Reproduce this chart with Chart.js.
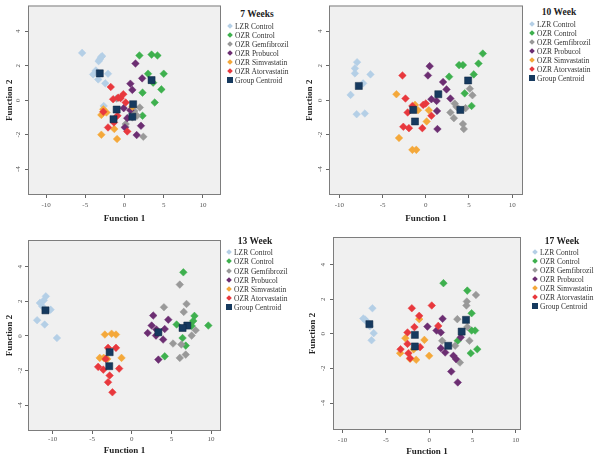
<!DOCTYPE html>
<html lang="en">
<head>
<meta charset="UTF-8">
<title>Discriminant function scores</title>
<script src="https://cdn.jsdelivr.net/npm/chart.js"></script>
<style>
  body { margin: 0; background: #fff; overflow: hidden; }
  #page { position: relative; width: 600px; height: 456px; overflow: hidden; }
  .panel { position: absolute; width: 300px; height: 228px; }
  .panel canvas { position: absolute; left: 0; top: 0; }
  .ttl { position: absolute; transform: translate(-50%, -50%); white-space: nowrap;
         font: bold 9.5px 'Liberation Serif', serif; color: #222; }
  .lbl { position: absolute; transform: translateY(-50%); white-space: nowrap;
         font: 7.5px 'Liberation Serif', serif; color: #333; }
  .mk { position: absolute; width: 4px; height: 4px; transform: translate(-50%, -50%) rotate(45deg); }
  .mk.sq { width: 6px; height: 6px; transform: translate(-50%, -50%); }
</style>
</head>
<body>
<div id="page"></div>
<script>
// tick labels and legend entries
const xTicks = [-10, -5, 0, 5, 10];
const yTicks = [-4, -2, 0, 2, 4];
const groupNames = ['LZR Control', 'OZR Control', 'OZR Gemfibrozil', 'OZR Probucol', 'OZR Simvastatin', 'OZR Atorvastatin'];
const centroidName = 'Group Centroid';
const panelTitles = ['7 Weeks', '10 Week', '13 Week', '17 Week'];

// 7 weeks: [function 1, function 2]
const lzr7 = [[-5.4,2.75],[-3.0,2.5],[-2.85,2.56],[-3.15,2.37],[-3.3,2.27],[-3.65,1.73],[-4.0,1.5],[-2.1,1.54],[-3.35,1.21],[-2.45,0.98],[-2.65,-0.33]];
const ctl7 = [[1.9,2.6],[3.45,2.65],[4.2,2.6],[3.0,1.54],[5.0,1.54],[3.65,1.02],[4.7,0.63],[2.3,0.44],[3.85,-0.13],[2.3,-0.9]];
const gem7 = [[-1.0,0.1],[1.95,-0.42],[1.25,-0.62],[1.6,-0.9],[1.0,-1.0],[0.15,-1.38],[0.1,-1.54],[2.4,-2.12]];
const pro7 = [[1.4,2.13],[2.25,1.27],[0.75,0.96],[1.0,0.6],[-0.1,-0.46],[0.75,-0.58],[0.35,-1.04],[2.1,-1.48],[0.05,-1.58],[1.55,-2.02]];
const sim7 = [[-2.7,-0.52],[-2.3,-0.71],[-2.95,-0.85],[-1.3,-1.67],[-2.95,-2.0],[-0.95,-2.25],[1.0,-0.38]];
const ato7 = [[-1.75,0.77],[-1.45,0.06],[-0.8,0.15],[-0.5,0.12],[-0.15,0.35],[0.15,-0.13],[-2.7,-0.67],[-0.9,-0.9],[-1.35,-1.29],[-2.1,-1.58],[0.35,-1.81]];
const cen7 = [[-3.15,1.56],[3.45,1.17],[1.0,-0.96],[1.1,-0.23],[-1.4,-1.1],[-1.0,-0.54]];

// 10 weeks
const lzr10 = [[-7.95,2.21],[-8.2,1.85],[-8.2,1.56],[-6.4,1.5],[-7.25,0.98],[-8.7,0.31],[-8.0,-0.81],[-7.05,-0.77]];
const ctl10 = [[6.6,2.71],[3.85,2.04],[4.3,2.04],[6.1,2.13],[5.55,1.5],[2.7,1.37],[4.5,0.4],[5.3,-0.33]];
const gem10 = [[5.1,0.67],[5.4,0.29],[3.35,-0.19],[3.55,-0.38],[2.85,-0.71],[4.6,-0.46],[3.25,-1.04],[4.3,-1.38],[4.4,-1.67]];
const pro10 = [[0.45,1.98],[0.25,1.44],[2.0,1.06],[2.4,0.63],[0.65,0.06],[1.25,-0.04],[2.85,0.1],[1.3,-0.62],[1.35,-1.67]];
const sim10 = [[-3.4,0.35],[-1.25,-0.27],[-0.9,-0.58],[0.35,-0.58],[0.1,-1.23],[-3.1,-2.19],[-1.55,-2.88],[-1.1,-2.88]];
const ato10 = [[-2.7,1.44],[-2.35,0.1],[-1.55,-0.33],[-0.3,-0.27],[0.0,-0.19],[-2.1,-0.71],[0.65,-0.9],[-2.6,-1.54],[-1.95,-1.62],[-0.4,-1.62]];
const cen10 = [[-7.75,0.83],[4.9,1.15],[4.0,-0.56],[1.45,0.35],[-1.25,-1.23],[-1.45,-0.56]];

// 13 weeks
const lzr13 = [[-10.85,2.29],[-11.1,2.06],[-11.6,1.91],[-11.3,1.71],[-10.25,1.52],[-11.95,0.91],[-11.0,0.66],[-9.45,-0.12]];
const ctl13 = [[6.5,3.68],[7.9,1.16],[7.75,0.87],[7.55,0.58],[5.65,0.66],[9.65,0.6],[6.4,-0.12],[6.8,-0.56],[4.15,-1.18]];
const gem13 = [[6.05,2.97],[4.05,1.66],[6.9,1.85],[6.55,1.39],[8.05,0.33],[7.55,0.02],[5.2,-0.44],[6.25,-0.5],[6.8,-1.08],[6.05,-1.27]];
const pro13 = [[2.7,1.18],[4.6,0.94],[2.5,0.6],[3.1,0.37],[4.15,0.4],[2.0,0.17],[3.05,0.02],[3.95,-0.21],[3.35,-1.37]];
const sim13 = [[-3.4,0.08],[-2.55,0.13],[-2.0,0.08],[-4.05,-1.27],[-3.55,-1.27],[-3.1,-1.33],[-1.3,-1.27]];
const ato13 = [[-3.0,-0.69],[-2.0,-0.69],[-3.3,-1.33],[-4.25,-1.79],[-3.6,-1.95],[-1.6,-1.89],[-2.8,-2.29],[-3.0,-2.68],[-2.45,-3.26]];
const cen13 = [[-10.9,1.48],[7.0,0.6],[6.4,0.46],[3.35,0.21],[-2.8,-0.94],[-2.85,-1.75]];

// 17 weeks
const lzr17 = [[-6.55,1.48],[-7.6,0.89],[-7.4,0.83],[-7.25,0.73],[-6.85,0.44],[-6.4,0.04],[-6.65,-0.37]];
const ctl17 = [[1.65,2.93],[4.4,2.5],[4.9,1.19],[4.9,0.19],[5.3,0.19],[5.55,-0.89],[4.8,-1.12],[3.3,-0.4]];
const gem17 = [[5.4,2.25],[4.35,1.87],[4.3,1.64],[3.25,0.85],[1.5,-0.4],[3.0,-0.69],[3.55,-1.66],[4.65,-0.4],[4.4,0.4]];
const pro17 = [[1.55,0.87],[-0.2,0.42],[0.85,0.19],[1.35,0.08],[1.35,-0.83],[1.85,-1.08],[2.8,-1.27],[3.1,-1.46],[2.55,-2.18],[3.3,-2.81],[3.65,-0.2]];
const sim17 = [[-1.15,0.85],[-2.75,-0.25],[-0.55,-0.35],[-3.35,-1.12],[-1.5,-1.5],[0.0,-1.27],[-2.2,-1.45],[-1.8,-0.9]];
const ato17 = [[-2.0,1.48],[0.3,1.64],[-1.15,1.04],[-1.7,0.39],[-2.5,0.08],[1.05,0.46],[-2.5,-0.58],[-3.3,-0.89],[-2.4,-1.12],[-2.2,-1.41],[-1.05,-0.77]];
const cen17 = [[-6.9,0.56],[4.25,0.81],[3.75,0.13],[2.2,-0.69],[-1.65,-0.73],[-1.65,-0.06]];

// styling
const groupColors = ['#b4cfe6', '#3eb04e', '#999999', '#6c2e72', '#f4a83a', '#e8383d'];
const centroidColor = '#163a5f';
const W = 232, H = 232;
const serif = "'Liberation Serif', 'Times New Roman', serif";

// panel layout: area = [left, top, right, bottom] of the plot inside the canvas
const panels = [
  { left: 0, top: 0, title: panelTitles[0], groups: [lzr7, ctl7, gem7, pro7, sim7, ato7], centroids: cen7,
    area: [28, 4, 221, 195], x: [-12.3, 12.3], y: [-5.5, 5.5],
    pad: { xTick: 3, xTitle: 7.6, yTick: 4, yTitle: 4.6 },
    legend: { tx: 257, ty: 14, mx: 230, y0: 25.7, dy: 9 } },
  { left: 300, top: 0, title: panelTitles[1], groups: [lzr10, ctl10, gem10, pro10, sim10, ato10], centroids: cen10,
    area: [29, 4, 223, 195], x: [-11.2, 11.25], y: [-5.5, 5.5],
    pad: { xTick: 3, xTitle: 7.6, yTick: 3, yTitle: 4.1 },
    legend: { tx: 259, ty: 12, mx: 232, y0: 24, dy: 9 } },
  { left: 0, top: 228, title: panelTitles[2], groups: [lzr13, ctl13, gem13, pro13, sim13, ato13], centroids: cen13,
    area: [28, 12, 221, 203], x: [-13.1, 11.25], y: [-5.5, 5.55],
    pad: { xTick: 1, xTitle: 3.6, yTick: 2, yTitle: 4.6 },
    legend: { tx: 255, ty: 13, mx: 229, y0: 24.3, dy: 9.1 } },
  { left: 300, top: 228, title: panelTitles[3], groups: [lzr17, ctl17, gem17, pro17, sim17, ato17], centroids: cen17,
    area: [33, 9, 221, 202], x: [-11.1, 10.6], y: [-5.56, 5.6],
    pad: { xTick: 3, xTitle: 2.6, yTick: 4, yTitle: 7.6 },
    legend: { tx: 262, ty: 12.7, mx: 235, y0: 24.3, dy: 9 } }
];

// grey plot background and frame
const frame = {
  id: 'frame',
  beforeDatasetsDraw(chart) {
    const a = chart.chartArea, ctx = chart.ctx;
    ctx.save();
    ctx.fillStyle = '#f0f0f0';
    ctx.fillRect(a.left, a.top, a.right - a.left, a.bottom - a.top);
    ctx.restore();
  },
  afterDraw(chart) {
    const a = chart.chartArea, ctx = chart.ctx;
    ctx.save();
    ctx.strokeStyle = '#7d7d7d';
    ctx.lineWidth = 1;
    ctx.strokeRect(a.left + 0.5, a.top + 0.5, a.right - a.left - 1, a.bottom - a.top - 1);
    ctx.restore();
  }
};

function toPts(list) {
  return list.map(([x, y]) => ({ x, y }));
}

function makePanel(p) {
  const div = document.createElement('div');
  div.className = 'panel';
  div.style.left = p.left + 'px';
  div.style.top = p.top + 'px';
  document.getElementById('page').appendChild(div);

  const canvas = document.createElement('canvas');
  canvas.width = W;
  canvas.height = H;
  div.appendChild(canvas);

  const datasets = p.groups.map((pts, i) => ({
    label: groupNames[i],
    data: toPts(pts),
    pointStyle: 'rectRot',
    pointRadius: 3.8,
    backgroundColor: groupColors[i],
    borderColor: groupColors[i],
    borderWidth: 0.5,
    order: 6 - i
  }));
  datasets.push({
    label: centroidName,
    data: toPts(p.centroids),
    pointStyle: 'rect',
    pointRadius: 5,
    backgroundColor: centroidColor,
    borderColor: '#0e2740',
    borderWidth: 0.5,
    order: -1
  });

  const tickFont = { family: serif, size: 7 };
  const titleFont = { family: serif, size: 9, weight: 'bold' };
  const grid = { display: true, drawOnChartArea: false, drawTicks: true, tickLength: 3, color: '#666' };

  new Chart(canvas, {
    type: 'scatter',
    data: { datasets },
    options: {
      responsive: false,
      animation: false,
      events: [],
      layout: { padding: { left: 0, top: p.area[1], right: W - p.area[2], bottom: 0 } },
      plugins: { legend: { display: false }, tooltip: { enabled: false } },
      scales: {
        x: {
          type: 'linear', min: p.x[0], max: p.x[1],
          grid, border: { display: false },
          afterBuildTicks: s => { s.ticks = xTicks.map(v => ({ value: v })); },
          afterFit: s => { s.height = H - p.area[3]; s.paddingLeft = 0; s.paddingRight = 0; },
          ticks: { font: tickFont, color: '#555', padding: p.pad.xTick, maxRotation: 0 },
          title: { display: true, text: 'Function 1', font: titleFont, color: '#222', padding: { top: 0, bottom: p.pad.xTitle } }
        },
        y: {
          type: 'linear', min: p.y[0], max: p.y[1],
          grid, border: { display: false },
          afterBuildTicks: s => { s.ticks = yTicks.map(v => ({ value: v })); },
          afterFit: s => { s.width = p.area[0]; s.paddingTop = 0; s.paddingBottom = 0; },
          ticks: { font: tickFont, color: '#555', padding: p.pad.yTick, minRotation: 90, maxRotation: 90, crossAlign: 'center' },
          title: { display: true, text: 'Function 2', font: titleFont, color: '#222', padding: { top: p.pad.yTitle, bottom: 0 } }
        }
      }
    },
    plugins: [frame]
  });

  // legend
  const lg = p.legend;
  const t = document.createElement('div');
  t.className = 'ttl';
  t.textContent = p.title;
  t.style.left = lg.tx + 'px';
  t.style.top = lg.ty + 'px';
  div.appendChild(t);

  const names = groupNames.concat([centroidName]);
  const colors = groupColors.concat([centroidColor]);
  names.forEach((name, i) => {
    const y = lg.y0 + i * lg.dy;
    const mk = document.createElement('span');
    mk.className = i === names.length - 1 ? 'mk sq' : 'mk';
    mk.style.background = colors[i];
    mk.style.left = lg.mx + 'px';
    mk.style.top = y + 'px';
    div.appendChild(mk);
    const lb = document.createElement('span');
    lb.className = 'lbl';
    lb.textContent = name;
    lb.style.left = (lg.mx + 5) + 'px';
    lb.style.top = y + 'px';
    div.appendChild(lb);
  });
}

panels.forEach(makePanel);
</script>
</body>
</html>
